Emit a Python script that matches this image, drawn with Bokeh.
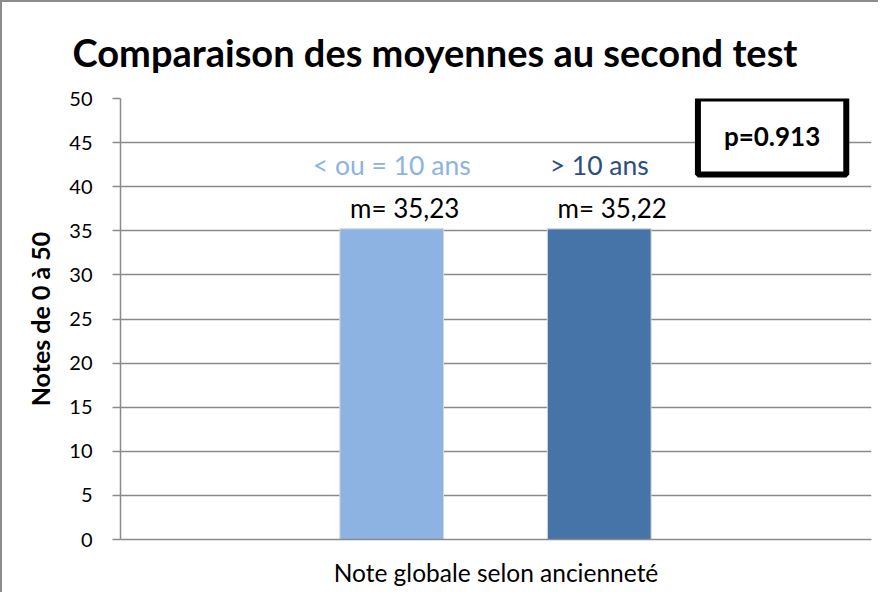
from bokeh.plotting import figure
from bokeh.models import Range1d, FixedTicker, Label, ColumnDataSource
from bokeh.core.properties import value
from bokeh.embed import file_html
from bokeh.resources import INLINE

# ---- data ----
categories = ["< ou = 10 ans", "> 10 ans"]
means = [35.23, 35.22]
mean_labels = ["m= 35,23", "m= 35,22"]
bar_colors = ["#8DB3E2", "#4673A8"]
legend_colors = ["#8DB3E2", "#2A4F80"]
y_ticks = [0, 5, 10, 15, 20, 25, 30, 35, 40, 45, 50]
p_value_text = "p=0.913"
title_text = "Comparaison des moyennes au second test"
x_title = "Note globale selon ancienneté"
y_title = "Notes de 0 à 50"

FONT = "Lato"
GRID = "#8a8a8a"

xs = list(range(len(categories)))
src = ColumnDataSource(dict(x=xs, top=means, color=bar_colors, lab=mean_labels,
                            cat=categories, lcolor=legend_colors))

p = figure(width=878, height=592, output_backend="svg", toolbar_location=None,
           x_range=Range1d(-1.307, 2.312), y_range=Range1d(0, 50),
           min_border_left=118, min_border_right=9, min_border_top=96,
           min_border_bottom=55, title=title_text)
p.styles = {"border-left": "2px solid #8c8c8c", "border-top": "2px solid #8c8c8c"}
p.outline_line_color = None
p.background_fill_color = "white"
p.border_fill_color = "white"

p.title.text_font = FONT
p.title.text_font_size = "38px"
p.title.text_font_style = "bold"
p.title.text_color = "black"
p.title.align = "left"
p.title.offset = -48
p.title.standoff = 47

# bars
p.vbar(x="x", top="top", bottom=0, width=0.5, color="color", line_color="#d8d8d8",
       line_width=1, source=src)

# value labels
p.text(x="x", y="top", text="lab", source=src, x_offset=13, y_offset=-21,
       text_align="center", text_baseline="middle", text_font=value(FONT),
       text_font_size="26px", text_color="black")

# series labels (legend placed in the chart)
p.text(x="x", y=42.5, text="cat", source=src, text_color="lcolor",
       text_align="center", text_baseline="middle", text_font=value(FONT),
       text_font_size="26.5px")

# y axis
p.yaxis.ticker = FixedTicker(ticks=y_ticks)
p.yaxis.axis_line_color = GRID
p.yaxis.axis_line_width = 1.5
p.yaxis.major_tick_line_color = GRID
p.yaxis.major_tick_line_width = 1.5
p.yaxis.major_tick_out = 8
p.yaxis.major_tick_in = 0
p.yaxis.minor_tick_line_color = None
p.yaxis.major_label_text_font = FONT
p.yaxis.major_label_text_font_size = "20px"
p.yaxis.major_label_text_color = "black"
p.yaxis.major_label_standoff = 20
p.yaxis.axis_label = y_title
p.yaxis.axis_label_text_font = FONT
p.yaxis.axis_label_text_font_style = "bold"
p.yaxis.axis_label_text_font_size = "25px"
p.yaxis.axis_label_text_color = "black"
p.yaxis.axis_label_standoff = 11

# x axis
p.xaxis.ticker = FixedTicker(ticks=[])
p.xaxis.axis_line_color = GRID
p.xaxis.axis_line_width = 1.5
p.xaxis.major_tick_line_color = None
p.xaxis.minor_tick_line_color = None
p.xaxis.major_label_text_color = None
p.xaxis.axis_label = x_title
p.xaxis.axis_label_text_font = FONT
p.xaxis.axis_label_text_font_style = "normal"
p.xaxis.axis_label_text_font_size = "24.5px"
p.xaxis.axis_label_text_color = "black"
p.xaxis.axis_label_standoff = 18

p.xgrid.grid_line_color = None
p.ygrid.ticker = FixedTicker(ticks=y_ticks)
p.ygrid.grid_line_color = GRID
p.ygrid.grid_line_width = 1.5

# p-value box
p.add_layout(Label(x=1.833, y=45.7, text=p_value_text, text_align="center",
                   text_baseline="middle", text_font=FONT, text_font_size="26px",
                   text_font_style="bold", text_color="black",
                   background_fill_color="white", background_fill_alpha=1.0,
                   border_line_color="black", border_line_width=6, border_line_alpha=1.0,
                   padding=dict(left=26, right=26, top=22, bottom=22)))

open("out.html", "w").write(file_html(p, INLINE))
